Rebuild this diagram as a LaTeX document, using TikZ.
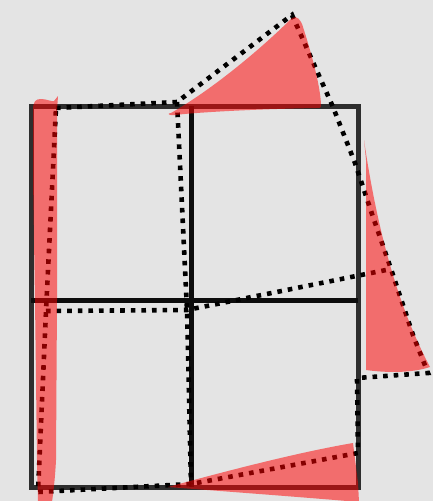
\documentclass[tikz,border=0pt]{standalone}
\begin{document}
\begin{tikzpicture}[x=1pt,y=-1pt,
  gridouter/.style={draw=black!82,line width=5pt,line join=miter},
  gridinner/.style={draw=black!95,line width=5pt},
  dotline/.style={draw=black,line width=4.6pt,dash pattern=on 4.6pt off 6pt,line join=miter},
  redpatch/.style={fill=red,fill opacity=0.52,draw=none}]
\useasboundingbox[fill=black!10.6] (0,0) rectangle (433,501);
\clip (0,0) rectangle (433,501);
% solid grid
\draw[gridouter] (31,106) rectangle (358,487);
\draw[gridinner] (191.5,106) -- (191.5,487);
\draw[gridinner] (31,300) -- (358,300);
% deformed dotted grid
\coordinate (TL) at (56,108);
\coordinate (TM) at (177,102);
\coordinate (TR) at (292,15);
\coordinate (ML) at (46,311);
\coordinate (MM) at (187,310);
\coordinate (MR) at (391,269);
\coordinate (BL) at (38,492);
\coordinate (BM) at (191,484);
\coordinate (C1) at (428,373);
\coordinate (C2) at (357,378);
\coordinate (C3) at (358,453);
\draw[dotline] (TL) -- (TM) -- (TR) -- (333,107) -- (355,163) -- (373,217) -- (MR)
  -- (413,335) -- (C1) -- (C2) -- (C3) -- (BM) -- (BL) -- (ML) -- cycle;
\draw[dotline] (ML) -- (MM) -- (MR);
\draw[dotline] (TM) -- (MM) -- (BM);
% red patches
\fill[redpatch] (171,113) .. controls (215,88) and (265,45) .. (292,18)
  .. controls (297,15) and (301,20) .. (303,27)
  .. controls (312,55) and (320,85) .. (321,104)
  .. controls (321,108) .. (316,108)
  .. controls (260,109) and (200,112) .. (175,115)
  .. controls (168,116) and (167,113) .. (171,113) -- cycle;
\fill[redpatch] (364,140) -- (366,160) -- (366,370)
  .. controls (388,373) and (412,373) .. (430,367)
  .. controls (405,320) and (380,250) .. (364,140) -- cycle;
\fill[redpatch] (168,487) .. controls (230,470) and (300,452) .. (353,443)
  -- (358,483) -- (359,502)
  .. controls (300,497) and (220,491) .. (168,487) -- cycle;
\fill[redpatch] (33,110) .. controls (33,101) and (36,99) .. (41,99)
  .. controls (47,99) and (52,102) .. (54,101) -- (58,96) -- (57,110)
  -- (57,300) -- (56,460) .. controls (55,480) and (53,495) .. (52,502)
  -- (38,502) -- (37,460) -- (35,300) -- (33,180) -- cycle;
\end{tikzpicture}
\end{document}
